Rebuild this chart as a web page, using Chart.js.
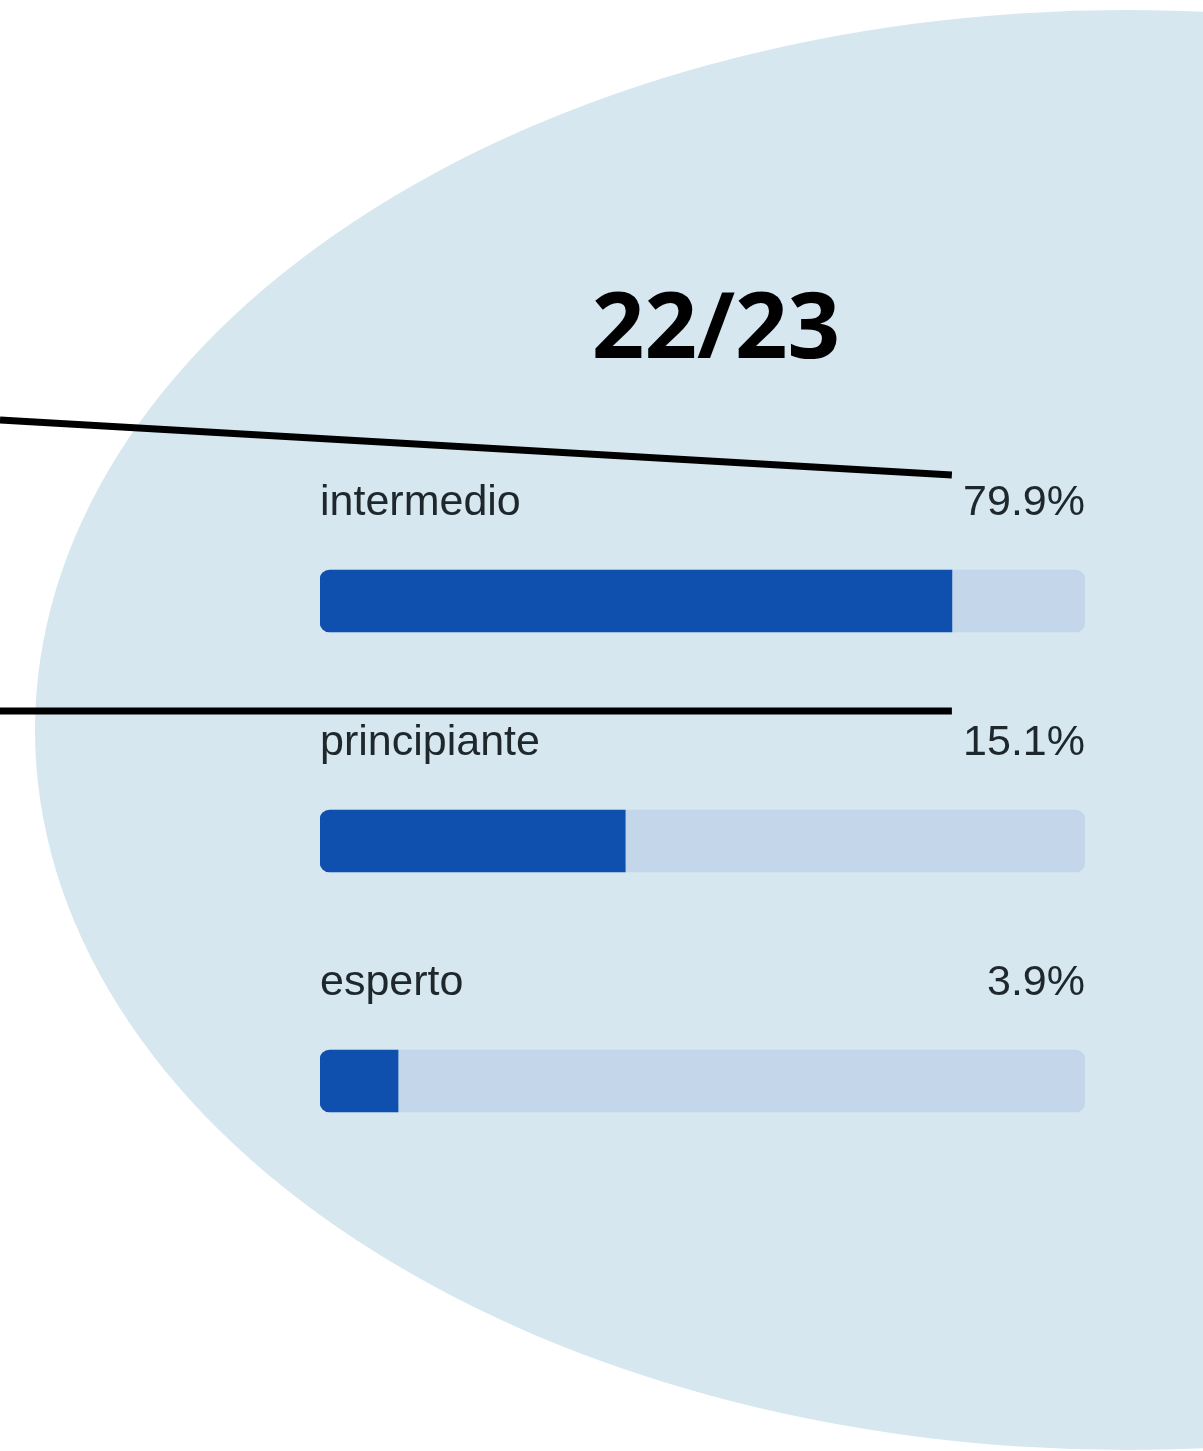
<!DOCTYPE html>
<html>
<head>
<meta charset="utf-8">
<script src="https://cdn.jsdelivr.net/npm/chart.js@4.4.1/dist/chart.umd.min.js"></script>
<style>
  html, body { margin: 0; padding: 0; background: #ffffff; }
  #grafico { display: block; }
</style>
</head>
<body>
<canvas id="grafico" width="1203" height="1451"></canvas>
<script>
// dati
const titolo = '22/23';
const categorie = ['intermedio', 'principiante', 'esperto'];
const etichettePercentuali = ['79.9%', '15.1%', '3.9%'];
const valoriBarre = [82.6, 39.9, 10.2];   // lunghezza della parte blu (su 100)
const valoriSfondo = [100, 100, 100];     // binario chiaro dietro

// sfondo bianco + ellisse azzurra
const sfondoPlugin = {
  id: 'sfondo',
  beforeDraw(chart) {
    const ctx = chart.ctx;
    ctx.save();
    ctx.fillStyle = '#ffffff';
    ctx.fillRect(0, 0, chart.width, chart.height);
    ctx.fillStyle = '#d6e7f0';
    ctx.beginPath();
    ctx.ellipse(1127, 730, 1092, 720, 0, 0, Math.PI * 2);
    ctx.fill();
    ctx.restore();
  }
};

// titolo, etichette, percentuali e linee nere
const testiPlugin = {
  id: 'testi',
  afterDatasetsDraw(chart) {
    const ctx = chart.ctx;
    const area = chart.chartArea;
    const x = chart.scales.x;
    const y = chart.scales.y;
    ctx.save();

    // titolo
    ctx.fillStyle = '#000000';
    ctx.font = 'bold 92px "Open Sans", "Noto Sans", sans-serif';
    ctx.textAlign = 'center';
    ctx.textBaseline = 'alphabetic';
    ctx.fillText(titolo, 716, 358);

    // etichette sopra le barre
    ctx.fillStyle = '#1e272c';
    ctx.font = '43px "Liberation Sans", Arial, sans-serif';
    categorie.forEach((c, i) => {
      const cy = y.getPixelForValue(i);
      ctx.textAlign = 'left';
      ctx.fillText(c, area.left, cy - 86);
      ctx.textAlign = 'right';
      ctx.fillText(etichettePercentuali[i], area.right, cy - 86);
    });

    // linee nere che arrivano da sinistra
    const fine = x.getPixelForValue(valoriBarre[0]);
    const c0 = y.getPixelForValue(0);
    ctx.strokeStyle = '#000000';
    ctx.lineWidth = 7;
    ctx.beginPath();
    ctx.moveTo(0, c0 - 181);
    ctx.lineTo(fine, c0 - 126);
    ctx.stroke();
    ctx.beginPath();
    ctx.moveTo(0, c0 + 110);
    ctx.lineTo(fine, c0 + 110);
    ctx.stroke();

    ctx.restore();
  }
};

const data = {
  labels: categorie,
  datasets: [
    {
      label: 'risposte',
      data: valoriBarre,
      backgroundColor: '#0f4fad',
      borderSkipped: false,
      borderRadius: { topLeft: 10, bottomLeft: 10, topRight: 0, bottomRight: 0 },
      barThickness: 62,
      grouped: false,
      order: 0
    },
    {
      label: 'totale',
      data: valoriSfondo,
      backgroundColor: '#c4d7ea',
      borderSkipped: false,
      borderRadius: 10,
      barThickness: 62,
      grouped: false,
      order: 1
    }
  ]
};

const config = {
  type: 'bar',
  data: data,
  options: {
    indexAxis: 'y',
    responsive: false,
    animation: false,
    layout: { padding: { left: 320, right: 118, top: 481, bottom: 250 } },
    scales: {
      x: { display: false, min: 0, max: 100 },
      y: { display: false }
    },
    plugins: {
      legend: { display: false },
      tooltip: { enabled: false }
    }
  },
  plugins: [sfondoPlugin, testiPlugin]
};

new Chart(document.getElementById('grafico'), config);
</script>
</body>
</html>
